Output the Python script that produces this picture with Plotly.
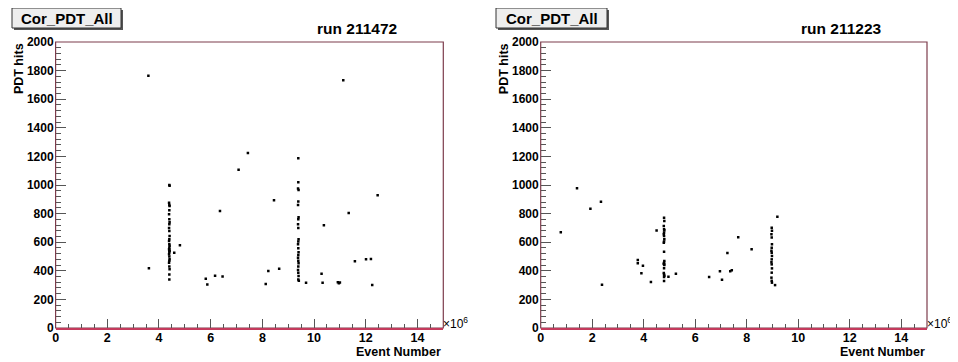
import plotly.graph_objects as go

# the page body adds an 8 px margin, so the figure is a bit smaller and shifted
OFF = 8
FW, FH = 950, 354

# run 211472 (event number in units of 10^6, PDT hits)
run1_x = [3.59, 3.61,
          4.40, 4.41, 4.39, 4.40, 4.41, 4.40, 4.39, 4.40, 4.41, 4.40, 4.39, 4.40,
          4.41, 4.40, 4.39, 4.40, 4.41, 4.40, 4.39, 4.40, 4.41, 4.40, 4.39, 4.40,
          4.41, 4.40, 4.39, 4.40, 4.41, 4.40, 4.40,
          4.59, 4.81, 5.81, 5.87, 6.17, 6.36, 6.46, 7.08, 7.44, 8.13, 8.23, 8.45, 8.65,
          9.39, 9.39, 9.38, 9.40, 9.39, 9.38, 9.40, 9.39, 9.38, 9.39, 9.40, 9.39,
          9.38, 9.39, 9.40, 9.39, 9.38, 9.39, 9.40, 9.39, 9.38, 9.39, 9.40, 9.39, 9.41,
          9.69, 10.29, 10.33, 10.38, 10.92, 10.96, 11.00, 11.13, 11.34, 11.58,
          12.01, 12.20, 12.25, 12.46]
run1_y = [1764, 417,
          1000, 995, 876, 860, 853, 823, 795, 760, 740, 725, 700, 678, 643, 620,
          608, 585, 575, 562, 550, 545, 538, 530, 515, 500, 480, 470, 457, 430,
          410, 375, 340,
          527, 578, 345, 305, 366, 818, 361, 1107, 1224, 308, 399, 893, 415,
          1187, 1019, 975, 965, 885, 860, 775, 760, 725, 700, 620, 605, 585, 557,
          530, 510, 492, 471, 452, 430, 406, 387, 363, 340, 331,
          317, 380, 317, 718, 320, 313, 318, 1732, 804, 466, 480, 483, 301, 928]

# run 211223
run2_x = [0.78, 1.41, 1.93, 2.34, 2.38, 3.77, 3.77, 3.91, 3.97, 4.28, 4.50,
          4.79, 4.80, 4.78, 4.79, 4.80, 4.79, 4.78, 4.79, 4.80, 4.79, 4.78, 4.79,
          4.80, 4.79, 4.78, 4.79, 4.80, 4.79, 4.78, 4.79, 4.80, 4.79, 4.79,
          4.96, 5.25, 6.54, 6.96, 7.04, 7.25, 7.36, 7.42, 7.67, 8.19,
          8.97, 8.98, 8.96, 8.97, 8.98, 8.97, 8.96, 8.97, 8.98, 8.97, 8.96, 8.97,
          8.98, 8.97, 8.96, 8.97, 8.98,
          9.10, 9.19]
run2_y = [669, 977, 834, 883, 303, 476, 452, 382, 436, 322, 681,
          771, 748, 713, 690, 683, 667, 655, 643, 620, 605, 597, 534, 469, 457,
          450, 445, 440, 417, 385, 375, 365, 356, 328,
          359, 380, 357, 396, 338, 524, 396, 403, 634, 550,
          701, 680, 655, 632, 585, 562, 540, 527, 504, 480, 460, 445, 417, 387,
          352, 330, 317,
          300, 778]

x_ticks = [0, 2, 4, 6, 8, 10, 12, 14]
y_ticks = [0, 200, 400, 600, 800, 1000, 1200, 1400, 1600, 1800, 2000]

panels = [("run 211472", run1_x, run1_y), ("run 211223", run2_x, run2_y)]
plot_px = [(55.6, 443.3), (540.7, 927.0)]
box_px = [(12, 121), (496, 607)]
top_px, bot_px = 42, 328

FRAME = "#7d3c4c"
AXRED = "#c43a5c"
TICK = "#555555"
FONT = "Arial, Liberation Sans"


def px(x):
    return (x - OFF) / FW


def py(y):
    return 1 - (y - OFF) / FH


fig = go.Figure()
shapes = []
annotations = []

for i, (title, xs, ys) in enumerate(panels):
    n = "" if i == 0 else str(i + 1)
    xa, ya = "x" + n, "y" + n
    fig.add_trace(go.Scatter(x=xs, y=ys, mode="markers", xaxis=xa, yaxis=ya,
                             marker=dict(color="black", size=2.5, symbol="square"),
                             showlegend=False, hoverinfo="x+y"))
    x0, x1 = plot_px[i]
    fig.update_layout({
        "xaxis" + n: dict(domain=[px(x0), px(x1)], anchor=ya, range=[0, 15],
                          automargin=False,
                          tickmode="array", tickvals=x_ticks,
                          ticktext=["<b>%d</b>" % t for t in x_ticks],
                          ticks="inside", ticklen=9, tickcolor=TICK,
                          tickwidth=1, showgrid=False, zeroline=False,
                          showline=True, linecolor=AXRED, linewidth=1.5,
                          minor=dict(dtick=0.5, ticks="inside", ticklen=4,
                                     tickcolor=TICK, showgrid=False),
                          tickfont=dict(family=FONT, size=12.5, color="black", weight=700),
                          ticklabelstandoff=-3, fixedrange=True),
        "yaxis" + n: dict(domain=[py(bot_px), py(top_px)], anchor=xa, range=[0, 2000],
                          automargin=False,
                          tickmode="array", tickvals=y_ticks,
                          ticktext=["<b>%d</b>" % t for t in y_ticks],
                          ticks="inside", ticklen=10, tickcolor=TICK,
                          tickwidth=1, showgrid=False, zeroline=False,
                          showline=False,
                          minor=dict(dtick=40, ticks="inside", ticklen=5,
                                     tickcolor=TICK, showgrid=False),
                          tickfont=dict(family=FONT, size=12, color="black", weight=700),
                          ticklabelstandoff=1, fixedrange=True),
    })
    # frame
    shapes.append(dict(type="rect", xref=xa + " domain", yref=ya + " domain",
                       x0=0, x1=1, y0=0, y1=1, line=dict(color=FRAME, width=1.2),
                       layer="below"))
    # title box with shadow
    bx0, bx1 = box_px[i]
    shapes.append(dict(type="rect", xref="paper", yref="paper",
                       x0=px(bx0 + 2), x1=px(bx1 + 2), y0=py(30), y1=py(10),
                       fillcolor="#555555", line=dict(width=0)))
    shapes.append(dict(type="rect", xref="paper", yref="paper",
                       x0=px(bx0), x1=px(bx1), y0=py(28), y1=py(8),
                       fillcolor="#eeeeee", line=dict(color="#333333", width=1)))
    annotations += [
        dict(x=px((bx0 + bx1) / 2), y=py(18.5), xref="paper", yref="paper",
             text="<b>Cor_PDT_All</b>", showarrow=False, xanchor="center", yanchor="middle",
             font=dict(family=FONT, size=15, color="black")),
        dict(x=px(x1 - 86), y=py(29), xref="paper", yref="paper",
             text="<b>" + title + "</b>", showarrow=False, xanchor="center", yanchor="middle",
             font=dict(family=FONT, size=15.5, color="black")),
        dict(x=px(x0 - 37), y=py(68.5), xref="paper", yref="paper",
             text="<b>PDT hits</b>", showarrow=False, textangle=-90,
             xanchor="center", yanchor="middle",
             font=dict(family=FONT, size=12.5, color="black")),
        dict(x=px(x1), y=py(352), xref="paper", yref="paper",
             text="<b>Event Number</b>", showarrow=False, xanchor="right", yanchor="middle",
             font=dict(family=FONT, size=12.5, color="black")),
        dict(x=px(x1 - 2), y=py(323), xref="paper", yref="paper",
             text="\u00d710<sup>6</sup>", showarrow=False, xanchor="left", yanchor="middle",
             font=dict(family=FONT, size=12, color="black")),
    ]

fig.update_layout(width=FW, height=FH, margin=dict(l=0, r=0, t=0, b=0),
                  paper_bgcolor="white", plot_bgcolor="white",
                  shapes=shapes, annotations=annotations)

fig.write_html("out.html")
